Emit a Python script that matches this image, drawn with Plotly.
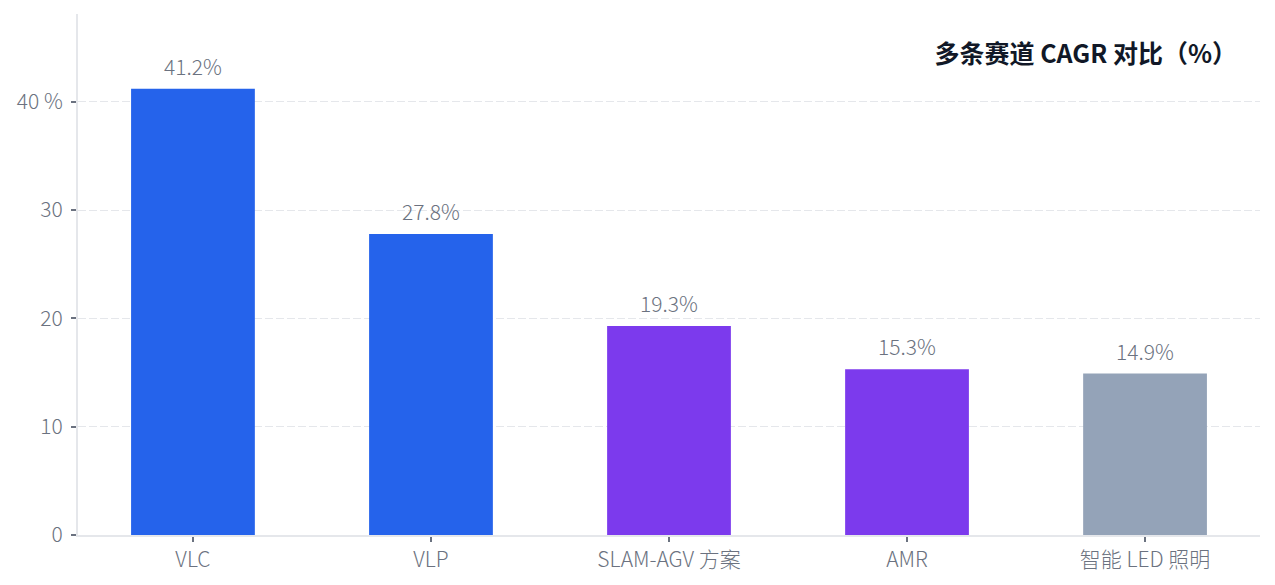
import plotly.graph_objects as go

categories = ["VLC", "VLP", "SLAM-AGV 方案", "AMR", "智能 LED 照明"]
cagr = [41.2, 27.8, 19.3, 15.3, 14.9]
bar_colors = ["#2563EB", "#2563EB", "#7C3AED", "#7C3AED", "#94A3B8"]
y_ticks = [0, 10, 20, 30, 40]
y_tick_labels = ["0", "10", "20", "30", "40 %"]

font_family = "Noto Sans CJK SC, Noto Sans, sans-serif"
label_gray = "#6B7280"
line_gray = "#E5E7EB"

fig = go.Figure()
fig.add_trace(
    go.Bar(
        x=categories, y=cagr,
        marker=dict(color=bar_colors, line=dict(width=0)),
        width=0.52,
        hovertemplate="%{x}: %{y}%<extra></extra>",
    )
)

# value labels above the bars
for cat, val in zip(categories, cagr):
    fig.add_annotation(
        x=cat, y=val, text="{:.1f}%".format(val),
        showarrow=False, yanchor="bottom", yshift=6,
        font=dict(size=21, color=label_gray, family=font_family, weight=300),
    )

fig.update_layout(
    width=1275, height=585,
    margin=dict(l=70, r=23, t=6, b=58),
    paper_bgcolor="white", plot_bgcolor="white",
    font=dict(family=font_family, size=21, color=label_gray, weight=300),
    showlegend=False,
    title=dict(
        text="<b>多条赛道 CAGR 对比（%）</b>",
        x=1229 / 1275, xanchor="right", xref="container",
        y=1 - 46 / 585, yanchor="middle",
        font=dict(size=25, color="#111827", family=font_family),
    ),
)
fig.update_xaxes(
    range=[-0.483, 4.483],
    showline=True, linecolor=line_gray, linewidth=2,
    ticks="outside", ticklen=5, tickcolor=label_gray, tickwidth=2,
    showgrid=False, zeroline=False,
    tickfont=dict(size=21, color=label_gray, weight=300),
)
fig.update_yaxes(
    range=[0, 48.1],
    tickvals=y_ticks, ticktext=y_tick_labels,
    showline=True, linecolor=line_gray, linewidth=2,
    ticks="outside", ticklen=5, tickcolor=label_gray, tickwidth=2,
    ticklabelstandoff=4,
    showgrid=True, gridcolor=line_gray, griddash="8px,3px", gridwidth=1,
    zeroline=False,
    tickfont=dict(size=21, color=label_gray, weight=300),
)

fig.write_html("out.html")
